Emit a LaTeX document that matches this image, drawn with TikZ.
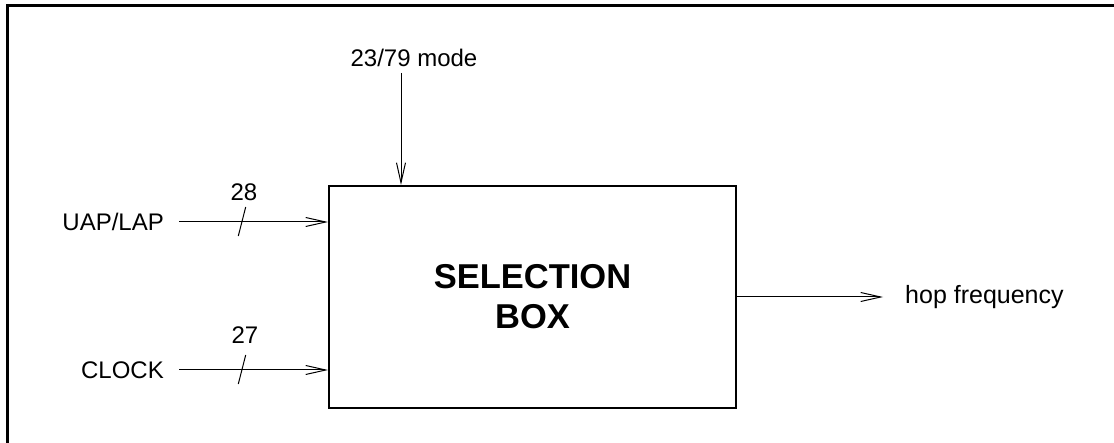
\documentclass[tikz,border=0pt]{standalone}
\usepackage{fontspec}
\setmainfont{Liberation Sans}
\usetikzlibrary{arrows.meta,positioning,calc}

\begin{document}
\begin{tikzpicture}[
  x=1pt, y=-1pt,
  lbl/.style={font=\fontsize{24}{28}\selectfont, inner sep=0pt},
  sigin/.style={lbl, anchor=east, inner xsep=15pt},
  selbox/.style={draw, line width=2pt, minimum width=407pt, minimum height=222pt, align=center, font=\fontsize{34.5}{40}\selectfont\bfseries},
  arr/.style={-{Straight Barb[length=20pt,width=9pt]}, line width=1pt},
  bus/.style={line width=1pt}
]
\useasboundingbox (0,0) rectangle (1114,443);
\draw[line width=3pt] (7,443) -- (7,6) -- (1114,6);

\node[selbox] (sel) at (532.5,297) {SELECTION\\BOX};

\node[sigin] (uap) at (179,222) {UAP/LAP};
\node[sigin] (clk) at (179,370) {CLOCK};
\node[lbl] (mode) at (414,58) {23/79 mode};
\node[lbl, anchor=west, inner xsep=22pt, font=\fontsize{25}{28}\selectfont] (hop) at (883,297) {hop frequency};

\draw[arr] (uap.east) -- (uap.east -| sel.west);
\draw[arr] (clk.east) -- (clk.east -| sel.west);
\draw[arr] ([xshift=73pt]sel.north west |- 0,73) -- ([xshift=73pt]sel.north west);
\draw[arr] (sel.east) -- (hop.west);

% bus widths
\draw[bus] (245.7,207) -- (238.3,236);
\draw[bus] (245.7,355) -- (238.3,384);
\node[lbl] (w28) at (244,192) {28};
\node[lbl] (w27) at (245,335) {27};
\end{tikzpicture}
\end{document}
